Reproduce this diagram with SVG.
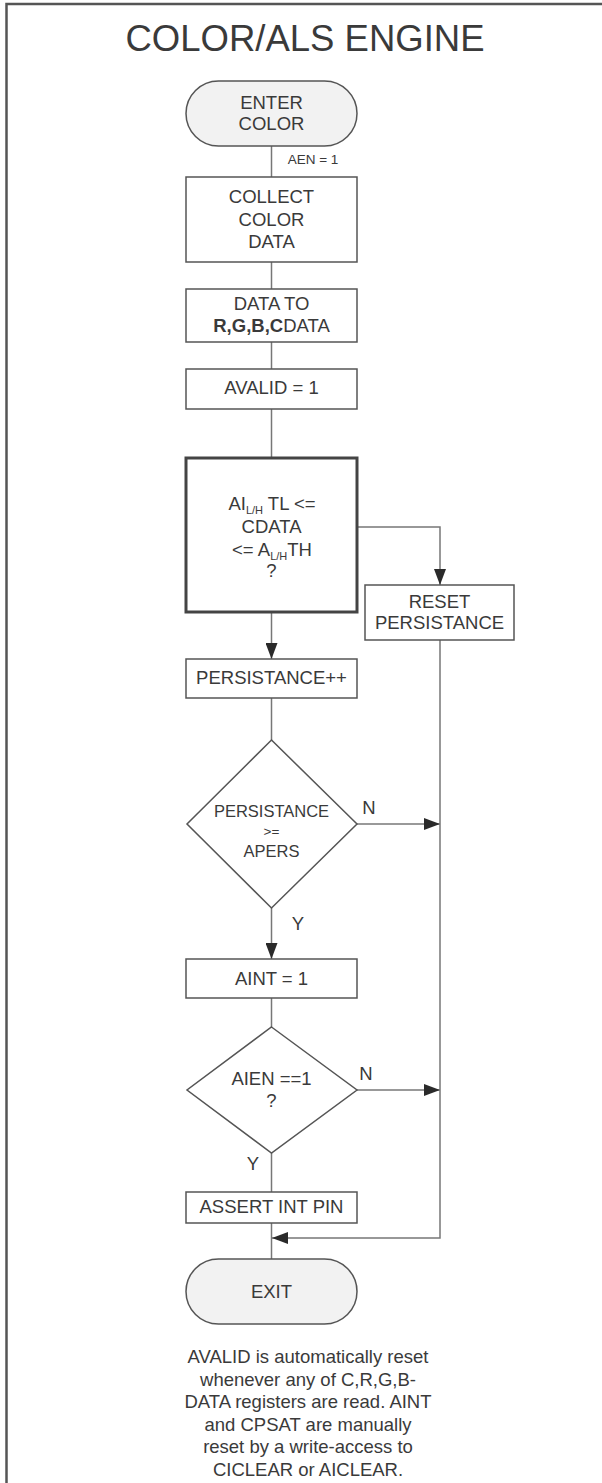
<svg xmlns="http://www.w3.org/2000/svg" width="602" height="1483" viewBox="0 0 602 1483">
<style>
text{font-family:"Liberation Sans",Arial,sans-serif;fill:#3a3a3a;text-anchor:middle}
.t{font-size:18.5px}
.d{font-size:16.5px}
.s{font-size:13.5px}
.box{fill:#fff;stroke:#555;stroke-width:1.5}
.term{fill:#f2f2f2;stroke:#555;stroke-width:1.5}
.thick{fill:#fff;stroke:#444;stroke-width:3}
.c{fill:none;stroke:#777;stroke-width:1.5}
</style>
<defs>
<marker id="ah" markerUnits="userSpaceOnUse" markerWidth="16" markerHeight="12" refX="16" refY="6" orient="auto">
<path d="M0,0 L16,6 L0,12 z" fill="#2a2a2a"/>
</marker>
</defs>
<rect width="602" height="1483" fill="#fff"/>
<path d="M6.5,1483 V4 H602" fill="none" stroke="#555" stroke-width="2.5"/>
<text x="305" y="51" style="font-size:36.5px" fill="#333">COLOR/ALS ENGINE</text>

<g id="connectors">
<path class="c" d="M271.5,146 V177"/>
<path class="c" d="M271.5,262 V289"/>
<path class="c" d="M271.5,342 V369"/>
<path class="c" d="M271.5,409 V458"/>
<path class="c" d="M357,527 H440 V585" marker-end="url(#ah)"/>
<path class="c" d="M271.5,612 V659" marker-end="url(#ah)"/>
<path class="c" d="M271.5,698 V740"/>
<path class="c" d="M357,824 H440" marker-end="url(#ah)"/>
<path class="c" d="M271.5,908 V959" marker-end="url(#ah)"/>
<path class="c" d="M271.5,998 V1027"/>
<path class="c" d="M357,1090 H440" marker-end="url(#ah)"/>
<path class="c" d="M271.5,1153 V1192"/>
<path class="c" d="M271.5,1223 V1259"/>
<path class="c" d="M440,640 V1238 H272" marker-end="url(#ah)"/>
<text class="s" x="313" y="164">AEN = 1</text>
<text class="t" x="369" y="814">N</text>
<text class="t" x="298" y="930">Y</text>
<text class="t" x="366" y="1080">N</text>
<text class="t" x="253" y="1170">Y</text>
</g>

<g id="enter">
<rect class="term" x="186" y="81" width="171" height="65" rx="32.5"/>
<text class="t" x="271.5" y="109">ENTER</text>
<text class="t" x="271.5" y="130">COLOR</text>
</g>
<g id="collect">
<rect class="box" x="186" y="177" width="171" height="85"/>
<text class="t" x="271.5" y="203">COLLECT</text>
<text class="t" x="271.5" y="226">COLOR</text>
<text class="t" x="271.5" y="248">DATA</text>
</g>
<g id="datato">
<rect class="box" x="186" y="289" width="171" height="53"/>
<text class="t" x="271.5" y="310">DATA TO</text>
<text class="t" x="271.5" y="332"><tspan font-weight="bold">R,G,B,C</tspan>DATA</text>
</g>
<g id="avalid">
<rect class="box" x="186" y="369" width="171" height="40"/>
<text class="t" x="271.5" y="394">AVALID = 1</text>
</g>
<g id="threshold">
<rect class="thick" x="186" y="458" width="171" height="154"/>
<text class="t" x="272" y="510">AI<tspan font-size="11" dy="4">L/H</tspan><tspan dy="-4"> TL &lt;=</tspan></text>
<text class="t" x="271.5" y="533">CDATA</text>
<text class="t" x="272" y="556">&lt;= A<tspan font-size="11" dy="4">L/H</tspan><tspan dy="-4">TH</tspan></text>
<text class="t" x="271.5" y="577">?</text>
</g>
<g id="reset">
<rect class="box" x="365" y="585" width="149" height="55"/>
<text class="t" x="439.5" y="608">RESET</text>
<text class="t" x="439.5" y="629">PERSISTANCE</text>
</g>
<g id="persinc">
<rect class="box" x="186" y="659" width="171" height="39"/>
<text class="t" x="271.5" y="684">PERSISTANCE++</text>
</g>
<g id="perscheck">
<polygon class="box" points="271.5,740 357,824 271.5,908 187,824"/>
<text class="d" x="271.5" y="817">PERSISTANCE</text>
<text class="s" x="271.5" y="836">&gt;=</text>
<text class="d" x="271.5" y="857">APERS</text>
</g>
<g id="aint">
<rect class="box" x="186" y="959" width="171" height="39"/>
<text class="t" x="271.5" y="985">AINT = 1</text>
</g>
<g id="aiencheck">
<polygon class="box" points="271.5,1027 357,1090 271.5,1153 187,1090"/>
<text class="t" x="271.5" y="1085">AIEN ==1</text>
<text class="t" x="271.5" y="1107">?</text>
</g>
<g id="assert">
<rect class="box" x="186" y="1192" width="171" height="31"/>
<text class="t" x="271.5" y="1213">ASSERT INT PIN</text>
</g>
<g id="exit">
<rect class="term" x="186" y="1259" width="171" height="65" rx="32.5"/>
<text class="t" x="271.5" y="1298">EXIT</text>
</g>
<g id="note">
<text class="t" x="308" y="1363">AVALID is automatically reset</text>
<text class="t" x="308" y="1386">whenever any of C,R,G,B-</text>
<text class="t" x="308" y="1408">DATA registers are read. AINT</text>
<text class="t" x="308" y="1431">and CPSAT are manually</text>
<text class="t" x="308" y="1453">reset by a write-access to</text>
<text class="t" x="308" y="1476">CICLEAR or AICLEAR.</text>
</g>
</svg>
